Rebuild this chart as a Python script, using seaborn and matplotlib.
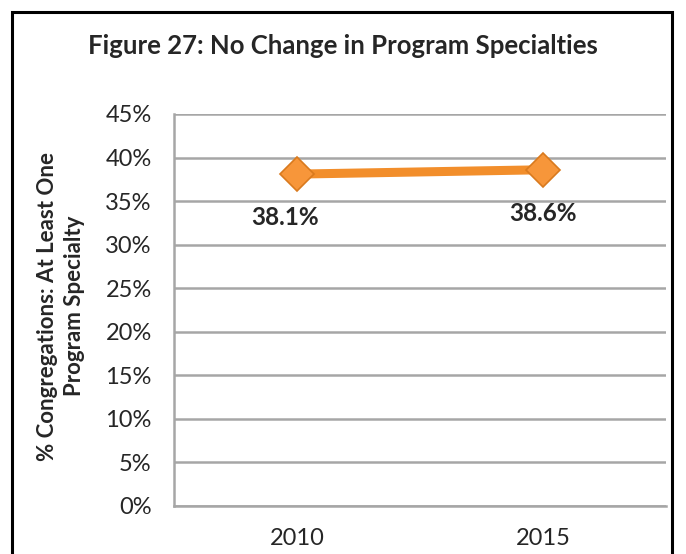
import matplotlib
matplotlib.use("Agg")
import matplotlib.pyplot as plt
import seaborn as sns
import pandas as pd
from matplotlib.patches import Rectangle

# data
years = ["2010", "2015"]
share = [38.1, 38.6]
point_labels = ["38.1%", "38.6%"]
y_ticks = [0, 5, 10, 15, 20, 25, 30, 35, 40, 45]

sns.set_theme(style="white")
plt.rcParams['font.family'] = ['Lato', 'DejaVu Sans']

df = pd.DataFrame({'year': years, 'share': share})

fig = plt.figure(figsize=(6.86, 5.54), dpi=100)
ax = fig.add_axes([174 / 686, 1 - 506 / 554, 492 / 686, 392 / 554])

grid_col = '#a6a6a6'
line_col = '#f28e2b'

sns.lineplot(data=df, x='year', y='share', ax=ax, color=line_col, linewidth=6.5,
             marker='D', markersize=17, markerfacecolor='#f7963a',
             markeredgecolor='#d97a1e', markeredgewidth=1.2, zorder=3)

for i, (v, lab) in enumerate(zip(share, point_labels)):
    ax.text(i - 0.05 * (1 - i), v - 5.0, lab, ha='center', va='center', fontsize=17.5,
            fontweight='bold', color='#262626')

ax.set_xlim(-0.5, 1.5)
ax.set_ylim(0, 45)
ax.set_yticks(y_ticks)
ax.set_yticklabels([f"{t}%" for t in y_ticks])
ax.set_xticks([0, 1])
ax.set_xticklabels(years)
ax.set_xticks([-0.5, 0.5, 1.5], minor=True)
ax.tick_params(axis='x', which='major', length=0, pad=16, labelsize=17, colors='#262626')
ax.tick_params(axis='x', which='minor', length=6, width=1.8, color=grid_col, direction='out')
ax.tick_params(axis='y', length=6, width=1.8, color=grid_col, direction='out',
               pad=10, labelsize=17, labelcolor='#262626')

ax.yaxis.grid(True, color=grid_col, linewidth=1.8)
ax.set_axisbelow(True)
for side in ['top', 'right']:
    ax.spines[side].set_visible(False)
for side in ['left', 'bottom']:
    ax.spines[side].set_color(grid_col)
    ax.spines[side].set_linewidth(1.8)

ax.set_xlabel('')
ax.set_ylabel('% Congregations: At Least One\nProgram Specialty', fontsize=16,
              fontweight='bold', color='#262626', linespacing=1.4)
ax.yaxis.set_label_coords(-0.18, 0.51)

fig.text(0.5, 1 - 46 / 554, 'Figure 27: No Change in Program Specialties',
         ha='center', va='center', fontsize=18.5, fontweight='bold', color='#262626')

# black frame around the whole chart (runs off the bottom edge)
fig.patches.append(Rectangle((12 / 686, -0.05), 660 / 686, 1.05 - 12 / 554,
                             transform=fig.transFigure, fill=False,
                             edgecolor='black', linewidth=2.2, clip_on=False))

fig.savefig('out.png', dpi=100)
